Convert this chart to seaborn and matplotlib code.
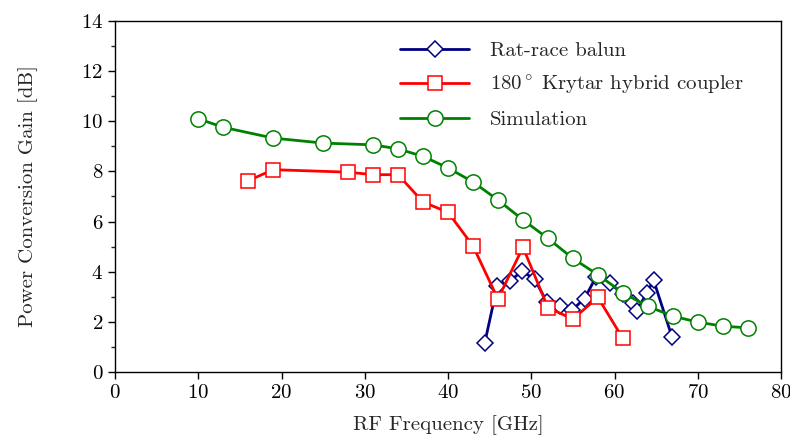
import matplotlib
matplotlib.use("Agg")
import matplotlib.pyplot as plt
import seaborn as sns
import pandas as pd

balun_freq = [44.4, 45.9, 47.4, 48.9, 50.4, 51.9, 53.4, 54.9, 56.4, 57.8, 59.4, 61.0, 62.2, 62.7, 63.9, 64.7, 66.9]
balun_gain = [1.14, 3.42, 3.62, 4.02, 3.70, 2.78, 2.65, 2.47, 2.93, 3.80, 3.56, 3.10, 2.74, 2.45, 3.17, 3.66, 1.41]

krytar_freq = [16, 19, 28, 31, 34, 37, 40, 43, 46, 49, 52, 55, 58, 61]
krytar_gain = [7.63, 8.07, 7.97, 7.87, 7.87, 6.78, 6.37, 5.03, 2.91, 4.98, 2.57, 2.11, 2.98, 1.34]

sim_freq = [10, 13, 19, 25, 31, 34, 37, 40, 43, 46, 49, 52, 55, 58, 61, 64, 67, 70, 73, 76]
sim_gain = [10.1, 9.76, 9.33, 9.13, 9.06, 8.9, 8.6, 8.14, 7.58, 6.86, 6.07, 5.33, 4.53, 3.88, 3.16, 2.62, 2.23, 1.99, 1.83, 1.76]

sns.set_style("ticks")
plt.rcParams["font.family"] = ["cmr10", "DejaVu Serif"]
plt.rcParams["mathtext.fontset"] = "cm"
plt.rcParams["axes.formatter.use_mathtext"] = True

fig = plt.figure(figsize=(7.9, 4.37), dpi=100)
ax = fig.add_axes([0.1456, 0.1487, 0.843, 0.8033])

series = [
    (balun_freq, balun_gain, "Rat-race balun", "#000080", "D", 8.5),
    (krytar_freq, krytar_gain, r"180$^\circ\;$Krytar hybrid coupler", "#ff0000", "s", 9.5),
    (sim_freq, sim_gain, "Simulation", "#008000", "o", 11),
]
for x, y, name, col, mk, ms in series:
    df = pd.DataFrame({"freq": x, "gain": y})
    sns.lineplot(data=df, x="freq", y="gain", ax=ax, color=col, lw=2.0,
                 marker=mk, markersize=ms, markerfacecolor="white",
                 markeredgecolor=col, markeredgewidth=1.1, label=name, sort=False)

ax.set_xlim(0, 80)
ax.set_ylim(0, 14)
ax.set_xticks(range(0, 81, 10))
ax.set_yticks(range(0, 15, 2))
ax.set_yticks(range(1, 14, 2), minor=True)
ax.tick_params(axis="both", labelsize=15, direction="out", length=5, width=1, colors="black")
ax.tick_params(axis="y", which="minor", length=3, width=1)
for s in ax.spines.values():
    s.set_linewidth(1.0)
    s.set_color("black")

ax.set_xlabel("RF Frequency [GHz]", fontsize=15, labelpad=10)
ax.set_ylabel("Power Conversion Gain [dB]", fontsize=15, labelpad=31)

ax.legend(loc="upper left", bbox_to_anchor=(0.40, 0.995), frameon=False,
          fontsize=15, handlelength=3.3, labelspacing=0.65, handletextpad=1.0)

fig.savefig("out.png", dpi=100)
